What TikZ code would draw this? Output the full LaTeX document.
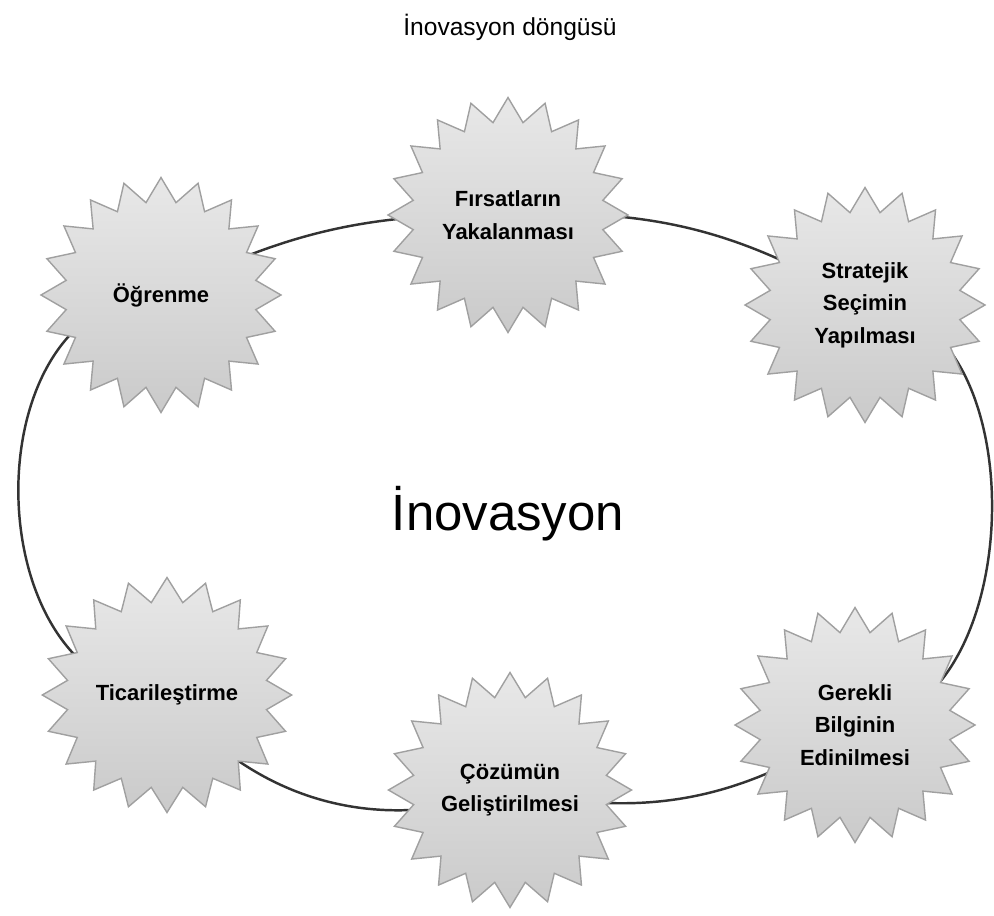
\documentclass[tikz,border=0pt]{standalone}
\usepackage{fontspec}
\setmainfont{Liberation Sans}
\usetikzlibrary{shapes.symbols,backgrounds}
\definecolor{burstlight}{HTML}{E8E8E8}
\definecolor{burstdark}{HTML}{CACACA}
\definecolor{burstedge}{HTML}{A0A0A0}
\definecolor{cycleline}{HTML}{333333}
\tikzset{
  burstnode/.style={starburst,starburst points=20,starburst point height=0.48cm,
    random starburst=0,minimum width=4.8cm,minimum height=4.7cm,
    top color=burstlight,bottom color=burstdark,draw=burstedge,line width=0.8pt,
    align=center,font=\bfseries\fontsize{12.5}{18.5}\selectfont,inner sep=0pt},
  cycleedge/.style={draw=cycleline,line width=1.4pt}
}
\begin{document}
\begin{tikzpicture}[x=0.02cm,y=-0.02cm]
\useasboundingbox (0,0) rectangle (994,916);
% Title
\node (title) at (510,27) {\fontsize{14}{16}\selectfont İnovasyon döngüsü};

% Steps of the cycle
\node[burstnode] (ogr) at (161,295) {Öğrenme};
\node[burstnode] (firsat) at (508,215) {Fırsatların\\Yakalanması};
\node[burstnode] (strat) at (865,305) {Stratejik\\Seçimin\\Yapılması};
\node[burstnode] (bilgi) at (855,725) {Gerekli\\Bilginin\\Edinilmesi};
\node[burstnode] (cozum) at (510,790) {Çözümün\\Geliştirilmesi};
\node[burstnode] (ticari) at (167,695) {Ticarileştirme};

% Centre label
\node[anchor=base,font=\fontsize{29}{32}\selectfont] (ino) at (508,530) {İnovasyon};

% Cycle behind the bursts
\begin{scope}[on background layer]
\draw[cycleedge] (ogr.center) to[bend left=14] (firsat.center);
\draw[cycleedge] (firsat.center) to[bend left=17] (strat.center);
\draw[cycleedge] (strat.center) to[out=0,in=0,looseness=1.07] (bilgi.center);
\draw[cycleedge] (bilgi.center) to[bend left=23] (cozum.center);
\draw[cycleedge] (cozum.center) to[bend left=35] (ticari.center);
\draw[cycleedge] (ticari.center) to[out=180,in=180,looseness=1.24] (ogr.center);
\end{scope}
\end{tikzpicture}
\end{document}
